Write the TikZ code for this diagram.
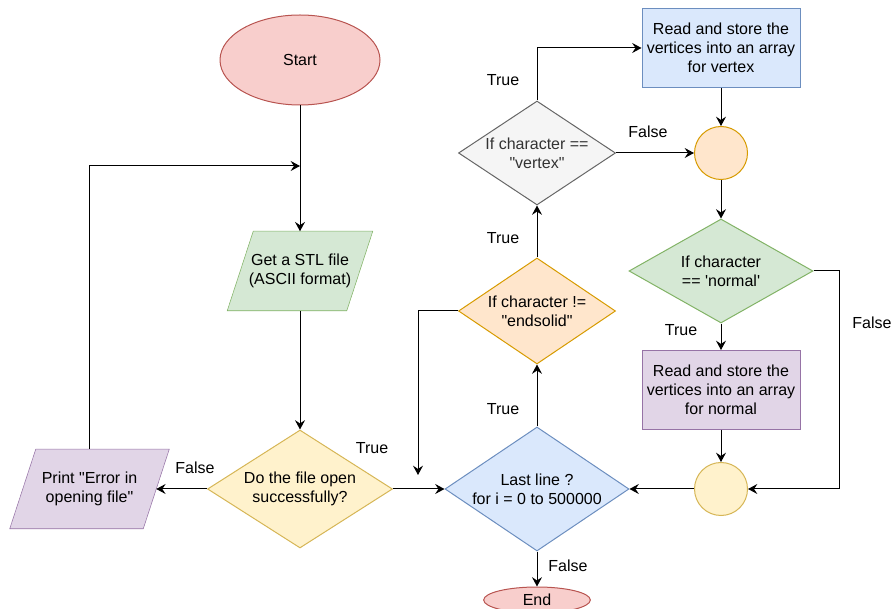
\documentclass[tikz,border=0pt]{standalone}
\usepackage{fontspec}
\setmainfont{Liberation Sans}[Ligatures=TeXOff]
\usetikzlibrary{shapes.geometric,arrows.meta,backgrounds}

\definecolor{redfill}{HTML}{F8CECC}  \definecolor{redline}{HTML}{B85450}
\definecolor{grnfill}{HTML}{D5E8D4}  \definecolor{grnline}{HTML}{82B366}
\definecolor{ylwfill}{HTML}{FFF2CC}  \definecolor{ylwline}{HTML}{D6B656}
\definecolor{purfill}{HTML}{E1D5E7}  \definecolor{purline}{HTML}{9673A6}
\definecolor{blufill}{HTML}{DAE8FC}  \definecolor{bluline}{HTML}{6C8EBF}
\definecolor{orgfill}{HTML}{FFE6CC}  \definecolor{orgline}{HTML}{D79B00}
\definecolor{gryfill}{HTML}{F5F5F5}  \definecolor{gryline}{HTML}{666666}
\definecolor{grytext}{HTML}{333333}

\begin{document}
\begin{tikzpicture}[x=0.75pt,y=-0.75pt,
  font=\fontsize{12}{14.4}\selectfont,
  base/.style={draw, line width=0.75pt, align=center, inner sep=0pt},
  term/.style={base, ellipse, fill=redfill, draw=redline},
  iobox/.style={align=center, inner sep=0pt, minimum height=59.25pt},
  cond/.style={base, diamond, aspect=1.5},
  proc/.style={base, rectangle, minimum width=118.5pt, minimum height=59.25pt},
  joint/.style={base, circle, minimum size=39.75pt},
  lbl/.style={inner sep=0pt},
  arr/.style={line width=0.75pt, -{Stealth[length=7pt,width=7.5pt,inset=2.5pt]}},
  ln/.style={line width=0.75pt}]
  \useasboundingbox (0,0) rectangle (893,609);
  % shapes
  \node[term, minimum width=120pt, minimum height=67.5pt] (start) at (300,60) {Start};
  \node[iobox, minimum width=89.25pt] (stl) at (300,271) {Get a STL file\\(ASCII format)};
  \node[cond, fill=ylwfill, draw=ylwline, minimum width=138.75pt, minimum height=88.5pt] (file) at (300,489) {Do the file open\\successfully?};
  \node[iobox, minimum width=99.75pt] (print) at (89.5,489) {Print "Error in\\opening file"};
  \node[cond, fill=blufill, draw=bluline, minimum width=138pt, minimum height=93pt] (last) at (537,489) {Last line ?\\for i = 0 to 500000};
  \node[term, minimum width=80pt, minimum height=19.5pt] (endn) at (537,600) {End};
  \node[cond, fill=orgfill, draw=orgline, minimum width=117.75pt, minimum height=79.5pt] (es) at (537,311) {If character !=\\"endsolid"};
  \node[cond, fill=gryfill, draw=gryline, text=grytext, minimum width=117.75pt, minimum height=78pt] (vx) at (537,153) {If character ==\\"vertex"};
  \node[proc, fill=blufill, draw=bluline] (rv) at (721,48) {Read and store the\\vertices into an array\\for vertex};
  \node[joint, fill=orgfill, draw=orgline] (oc) at (721,153) {};
  \node[cond, fill=grnfill, draw=grnline, minimum width=138pt, minimum height=78pt] (nrm) at (721,271) {If character\\== 'normal'};
  \node[proc, fill=purfill, draw=purline] (rn) at (721,390) {Read and store the\\vertices into an array\\for normal};
  \node[joint, fill=ylwfill, draw=ylwline] (yc) at (721,489) {};
  \coordinate (join) at (300,166);
  \coordinate (drop) at (418,475);
  \coordinate (rt) at (839,489);
  % parallelograms behind the io texts
  \begin{scope}[on background layer, line width=0.75pt]
    \foreach \n/\c in {stl/grn, print/pur}
      \draw[draw=\c line, fill=\c fill] ([xshift=9.75pt]\n.north west) -- ([xshift=9.75pt]\n.north east)
        -- ([xshift=-9.75pt]\n.south east) -- ([xshift=-9.75pt]\n.south west) -- cycle;
  \end{scope}
  % labels
  \node[lbl] (lfalse1) at (195,468) {False};
  \node[lbl] (ltrue1) at (372,448) {True};
  \node[lbl] (ltrue2) at (503,409) {True};
  \node[lbl] (lfalse2) at (568,566) {False};
  \node[lbl] (ltrue3) at (503,238) {True};
  \node[lbl] (ltrue4) at (503,80) {True};
  \node[lbl] (lfalse3) at (648,132) {False};
  \node[lbl] (lfalse4) at (872,323) {False};
  \node[lbl] (ltrue5) at (681,330) {True};
  % connectors
  \draw[arr] (start) -- (stl);
  \draw[arr] (print.north) |- (join);
  \draw[arr] (stl) -- (file);
  \draw[arr] (file) -- (print);
  \draw[arr] (file) -- (last);
  \draw[arr] (last) -- (endn);
  \draw[arr] (last) -- (es);
  \draw[arr] (es.west) -| (drop);
  \draw[arr] (es) -- (vx);
  \draw[arr] (vx.north) |- (rv.west);
  \draw[arr] (vx) -- (oc);
  \draw[arr] (rv) -- (oc);
  \draw[arr] (oc) -- (nrm);
  \draw[arr] (nrm) -- (rn);
  \draw[arr] (rn) -- (yc);
  \draw[ln] (nrm.east) -| (rt);
  \draw[arr] (rt) -- (yc.east);
  \draw[arr] (yc) -- (last);
\end{tikzpicture}
\end{document}
